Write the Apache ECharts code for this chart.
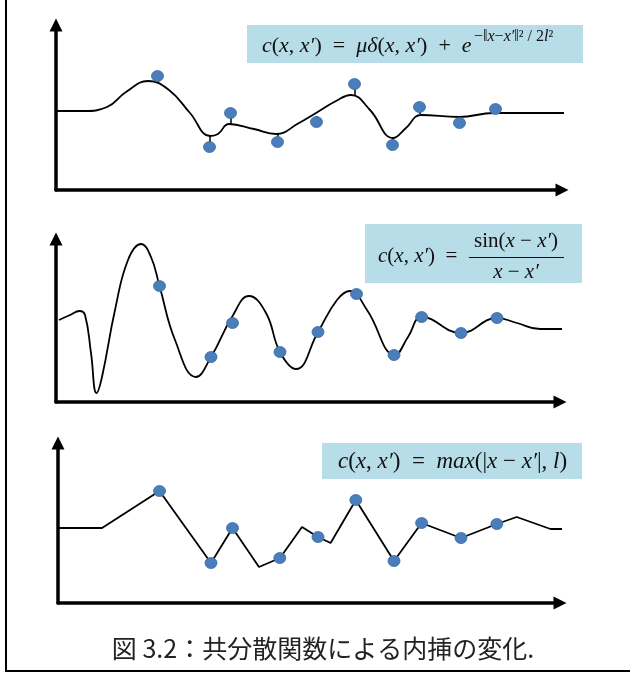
<!DOCTYPE html>
<html>
<head>
<meta charset="utf-8">
<script src="https://cdn.jsdelivr.net/npm/echarts@6/dist/echarts.min.js"></script>
<style>
html,body{margin:0;padding:0;background:#fff;}
#chart{width:630px;height:674px;}
</style>
</head>
<body>
<div id="chart"></div>
<script>
// Panel 1: squared-exponential + noise kernel (smooth curve with stems to noisy points)
const curve1X = [0, 28, 51, 70, 92, 113, 134, 154, 162, 173, 198, 220, 243, 260, 280, 295, 314, 337, 350, 365, 403, 438, 512];
const curve1Y = [79, 79, 83, 98, 109, 100, 77, 54, 56, 66, 61, 56, 67, 77, 89, 95, 80, 52, 62, 75, 73, 77, 77];
const pts1X = [101.5, 153.5, 174.5, 221.5, 260.5, 298.5, 336.5, 363.5, 403.5, 439.5];
const pts1Y = [114, 43, 77, 48, 68, 106, 45, 83, 67, 81];
const stem1Y = [108, 54, 66, 56, 74, 95, 52, 76, 73, 77];

// Panel 2: sinc kernel (smooth curve through points)
const curve2X = [3, 14, 23.5, 29, 35, 40.5, 46, 59, 72, 85, 95, 103.5, 119, 140, 155, 176, 193, 210, 224, 240, 262, 281, 294, 311, 339, 352, 366, 405, 441, 461, 484, 507];
const curve2Y = [82, 87, 91, 87, 49, 9, 25, 92, 142, 158, 145, 116, 62, 25, 45, 85, 106, 89, 50, 33, 70, 102, 111, 92, 47, 65, 85, 69, 84, 79, 73, 73];
const pts2X = [103.5, 155, 176.5, 224, 262, 300.5, 338, 365.6, 405, 441];
const pts2Y = [116, 45, 79, 50, 70, 108, 47, 85, 69, 84];

// Panel 3: max kernel (piecewise linear through points)
const curve3X = [1, 44, 101.5, 153, 174.5, 201, 222, 244, 260, 272.6, 297.8, 336, 363.6, 403, 438.8, 458.7, 492.5, 522.6];
const curve3Y = [75, 75, 112, 40, 75, 36, 45, 76, 66, 60, 103, 42, 80, 65, 79, 86, 74, 74];
const pts3X = [101.5, 153, 174.5, 221.8, 260, 297.8, 336, 363.6, 403, 438.8];
const pts3Y = [112, 40, 75, 45, 66, 103, 42, 80, 65, 79];

const caption = '図 3.2：共分散関数による内挿の変化.';

const zip = (xs, ys) => xs.map((x, i) => [x, ys[i]]);

const panels = [
  {left: 56, top: 25, width: 506, height: 165},
  {left: 56, top: 239, width: 504, height: 163},
  {left: 58, top: 443, width: 502, height: 160}
];

const axisLine = {
  show: true,
  lineStyle: {color: '#000', width: 3.5},
  symbol: ['none', 'triangle'],
  symbolSize: [13, 13]
};

const grids = panels.map(p => ({left: p.left, top: p.top, width: p.width, height: p.height, containLabel: false}));
const xAxes = panels.map((p, i) => ({
  type: 'value', gridIndex: i, min: 0, max: p.width,
  axisLine: axisLine, axisTick: {show: false}, axisLabel: {show: false}, splitLine: {show: false}
}));
const yAxes = panels.map((p, i) => ({
  type: 'value', gridIndex: i, min: 0, max: p.height,
  axisLine: axisLine, axisTick: {show: false}, axisLabel: {show: false}, splitLine: {show: false}
}));

const ptStyle = {color: '#4A7EBB', borderColor: '#3A6BA5', borderWidth: 0.8, opacity: 1};
const curveStyle = {color: '#000', width: 1.8};

const series = [
  {type: 'line', xAxisIndex: 0, yAxisIndex: 0, data: zip(curve1X, curve1Y), smooth: 0.45, showSymbol: false, lineStyle: curveStyle, clip: false, z: 3},
  {type: 'lines', coordinateSystem: 'cartesian2d', xAxisIndex: 0, yAxisIndex: 0,
   data: pts1X.map((x, i) => ({coords: [[x, pts1Y[i]], [x, stem1Y[i]]]})),
   lineStyle: {color: '#000', width: 1.5, opacity: 1}, z: 3},
  {type: 'scatter', xAxisIndex: 0, yAxisIndex: 0, data: zip(pts1X, pts1Y), symbol: 'circle', symbolSize: [12, 11], itemStyle: ptStyle, z: 5},

  {type: 'line', xAxisIndex: 1, yAxisIndex: 1, data: zip(curve2X, curve2Y), smooth: 0.45, showSymbol: false, lineStyle: curveStyle, clip: false, z: 3},
  {type: 'scatter', xAxisIndex: 1, yAxisIndex: 1, data: zip(pts2X, pts2Y), symbol: 'circle', symbolSize: [12, 11], itemStyle: ptStyle, z: 5},

  {type: 'line', xAxisIndex: 2, yAxisIndex: 2, data: zip(curve3X, curve3Y), smooth: false, showSymbol: false, lineStyle: curveStyle, clip: false, z: 3},
  {type: 'scatter', xAxisIndex: 2, yAxisIndex: 2, data: zip(pts3X, pts3Y), symbol: 'circle', symbolSize: [12, 11], itemStyle: ptStyle, z: 5}
];

const mathFont = 'Liberation Serif';
const boxFill = '#B7DDE8';
const mk = (size) => ({
  i: {fontFamily: mathFont, fontStyle: 'italic', fontSize: size, fill: '#111'},
  r: {fontFamily: mathFont, fontStyle: 'normal', fontSize: size, fill: '#111'}
});
const rich22 = mk(22);
const rich21 = mk(21);
const rich23 = mk(23);
const rich16 = mk(16);

const graphic = [
  // outer frame (left and bottom rule)
  {type: 'line', shape: {x1: 6, y1: 0, x2: 6, y2: 672}, style: {stroke: '#000', lineWidth: 2}},
  {type: 'line', shape: {x1: 5, y1: 671, x2: 630, y2: 671}, style: {stroke: '#000', lineWidth: 2}},

  // formula box 1
  {type: 'rect', shape: {x: 247, y: 25, width: 336, height: 38}, style: {fill: boxFill}, z: 10},
  {type: 'text', x: 262, y: 46, z: 11, style: {
    text: '{i|c}{r|(}{i|x}{r|, }{i|x′}{r|)  =  }{i|μδ}{r|(}{i|x}{r|, }{i|x′}{r|)  +  }{i|e}',
    rich: rich22, verticalAlign: 'middle', align: 'left'}},
  {type: 'text', x: 474, y: 37, z: 11, style: {
    text: '{r|−‖}{i|x}{r|−}{i|x′}{r|‖² / 2}{i|l}{r|²}',
    rich: rich16, verticalAlign: 'middle', align: 'left'}},

  // formula box 2
  {type: 'rect', shape: {x: 365, y: 224, width: 217, height: 59}, style: {fill: boxFill}, z: 10},
  {type: 'text', x: 378, y: 256, z: 11, style: {
    text: '{i|c}{r|(}{i|x}{r|, }{i|x′}{r|)  = }',
    rich: rich21, verticalAlign: 'middle', align: 'left'}},
  {type: 'text', x: 516, y: 241, z: 11, style: {
    text: '{r|sin(}{i|x}{r| − }{i|x′}{r|)}',
    rich: rich21, verticalAlign: 'middle', align: 'center'}},
  {type: 'line', z: 11, shape: {x1: 469, y1: 257.5, x2: 564, y2: 257.5}, style: {stroke: '#111', lineWidth: 1.2}},
  {type: 'text', x: 516, y: 272, z: 11, style: {
    text: '{i|x}{r| − }{i|x′}',
    rich: rich21, verticalAlign: 'middle', align: 'center'}},

  // formula box 3
  {type: 'rect', shape: {x: 322, y: 443, width: 260, height: 36}, style: {fill: boxFill}, z: 10},
  {type: 'text', x: 338, y: 462, z: 11, style: {
    text: '{i|c}{r|(}{i|x}{r|, }{i|x′}{r|)  =  }{i|max}{r|(|}{i|x}{r| − }{i|x′}{r||, }{i|l}{r|)}',
    rich: rich23, verticalAlign: 'middle', align: 'left'}},

  // caption
  {type: 'text', x: 323, y: 648, z: 11, style: {
    text: caption, fontFamily: 'Noto Sans CJK JP', fontSize: 25, fill: '#222',
    align: 'center', verticalAlign: 'middle'}}
];

const chart = echarts.init(document.getElementById('chart'), null, {renderer: 'canvas'});
chart.setOption({
  animation: false,
  backgroundColor: '#fff',
  grid: grids,
  xAxis: xAxes,
  yAxis: yAxes,
  series: series,
  graphic: graphic
});
</script>
</body>
</html>
